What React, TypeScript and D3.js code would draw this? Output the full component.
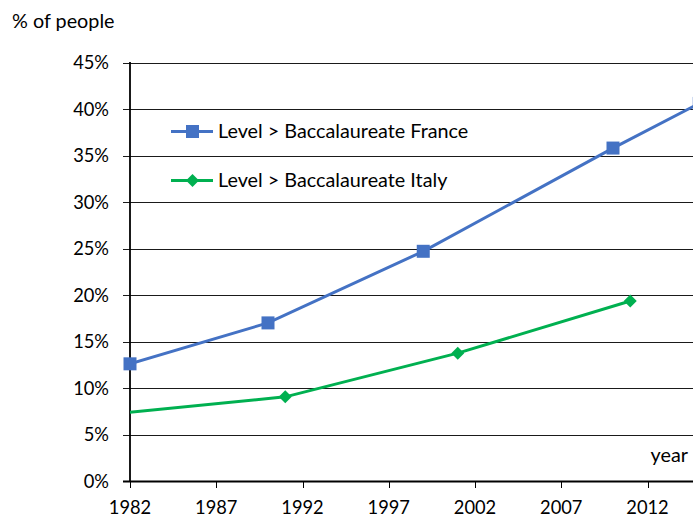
import React from "react";
import * as d3 from "d3";

const franceYears = [1982, 1990, 1999, 2010, 2015];
const franceValues = [12.6, 17.0, 24.7, 35.8, 40.6];
const italyYears = [1981, 1991, 2001, 2011];
const italyValues = [7.2, 9.05, 13.75, 19.35];
const xTickYears = [1982, 1987, 1992, 1997, 2002, 2007, 2012];
const yTickValues = [0, 5, 10, 15, 20, 25, 30, 35, 40, 45];
const seriesNames = ["Level > Baccalaureate France", "Level > Baccalaureate Italy"];
const yAxisTitle = "% of people";
const xAxisTitle = "year";

const W = 693;
const H = 517;
const FONT = "Lato, 'Liberation Sans', sans-serif";
const BLUE = "#4472C4";
const GREEN = "#00B050";
const NUM_SIZE = 18.3;
const TXT_SIZE = 19.8;

export default function App() {
  const x = d3.scaleLinear().domain([1982, 2012]).range([130, 647.5]);
  const y = d3.scaleLinear().domain([0, 45]).range([481, 62.5]);
  const line = d3
    .line<[number, number]>()
    .x((d) => x(d[0]))
    .y((d) => y(d[1]));
  const france: [number, number][] = franceYears.map((yr, i) => [yr, franceValues[i]]);
  const italy: [number, number][] = italyYears.map((yr, i) => [yr, italyValues[i]]);
  const diamond = (cx: number, cy: number, r: number) =>
    `M${cx},${cy - r}L${cx + r},${cy}L${cx},${cy + r}L${cx - r},${cy}Z`;

  return (
    <svg
      width={W}
      height={H}
      style={{ position: "absolute", left: 0, top: 0, display: "block", background: "#fff" }}
      fontFamily={FONT}
    >
      <defs>
        <clipPath id="plotClip">
          <rect x={130} y={0} width={W} height={H} />
        </clipPath>
        <clipPath id="markClip">
          <rect x={123} y={0} width={W} height={H} />
        </clipPath>
      </defs>
      <rect x={0} y={0} width={W} height={H} fill="#fff" />
      {/* gridlines */}
      {yTickValues.map((v) => (
        <line
          key={"g" + v}
          x1={123}
          x2={W}
          y1={Math.round(y(v)) + 0.5}
          y2={Math.round(y(v)) + 0.5}
          stroke={v === 0 ? "none" : "#1a1a1a"}
          strokeWidth={1}
        />
      ))}
      {/* y tick labels */}
      {yTickValues.map((v) => (
        <text
          key={"yl" + v}
          x={109}
          y={y(v) + 6.5}
          textAnchor="end"
          fontSize={NUM_SIZE}
          fill="#000"
        >
          {v + "%"}
        </text>
      ))}
      {/* axes */}
      <line x1={130} x2={130} y1={62} y2={482} stroke="#000" strokeWidth={1.8} />
      <line x1={123} x2={W} y1={481.5} y2={481.5} stroke="#000" strokeWidth={2} />
      {xTickYears.map((yr) => (
        <line
          key={"xt" + yr}
          x1={Math.round(x(yr)) + 0.5}
          x2={Math.round(x(yr)) + 0.5}
          y1={481}
          y2={488}
          stroke="#000"
          strokeWidth={1}
        />
      ))}
      {xTickYears.map((yr) => (
        <text key={"xl" + yr} x={x(yr)} y={514} textAnchor="middle" fontSize={NUM_SIZE} fill="#000">
          {yr}
        </text>
      ))}
      <text x={12} y={28} fontSize={TXT_SIZE} fill="#000">
        {yAxisTitle}
      </text>
      <text x={688} y={462} textAnchor="end" fontSize={TXT_SIZE} fill="#000">
        {xAxisTitle}
      </text>
      {/* series lines */}
      <g clipPath="url(#plotClip)">
        <path d={line(france) || ""} fill="none" stroke={BLUE} strokeWidth={3} />
        <path d={line(italy) || ""} fill="none" stroke={GREEN} strokeWidth={3} />
      </g>
      <g clipPath="url(#markClip)">
        {france.map((d, i) => (
          <rect
            key={"fm" + i}
            x={x(d[0]) - 6.5}
            y={y(d[1]) - 6.5}
            width={13}
            height={13}
            fill={BLUE}
          />
        ))}
        {italy.map((d, i) => (
          <path key={"im" + i} d={diamond(x(d[0]), y(d[1]), 6.5)} fill={GREEN} />
        ))}
      </g>
      {/* legend */}
      <line x1={171} x2={213} y1={131.5} y2={131.5} stroke={BLUE} strokeWidth={3} />
      <rect x={186} y={125} width={13} height={13} fill={BLUE} />
      <text x={218} y={138} fontSize={TXT_SIZE} fill="#000">
        {seriesNames[0]}
      </text>
      <line x1={171} x2={213} y1={180.5} y2={180.5} stroke={GREEN} strokeWidth={3} />
      <path d={diamond(192.5, 180.5, 6.5)} fill={GREEN} />
      <text x={218} y={187} fontSize={TXT_SIZE} fill="#000">
        {seriesNames[1]}
      </text>
    </svg>
  );
}
